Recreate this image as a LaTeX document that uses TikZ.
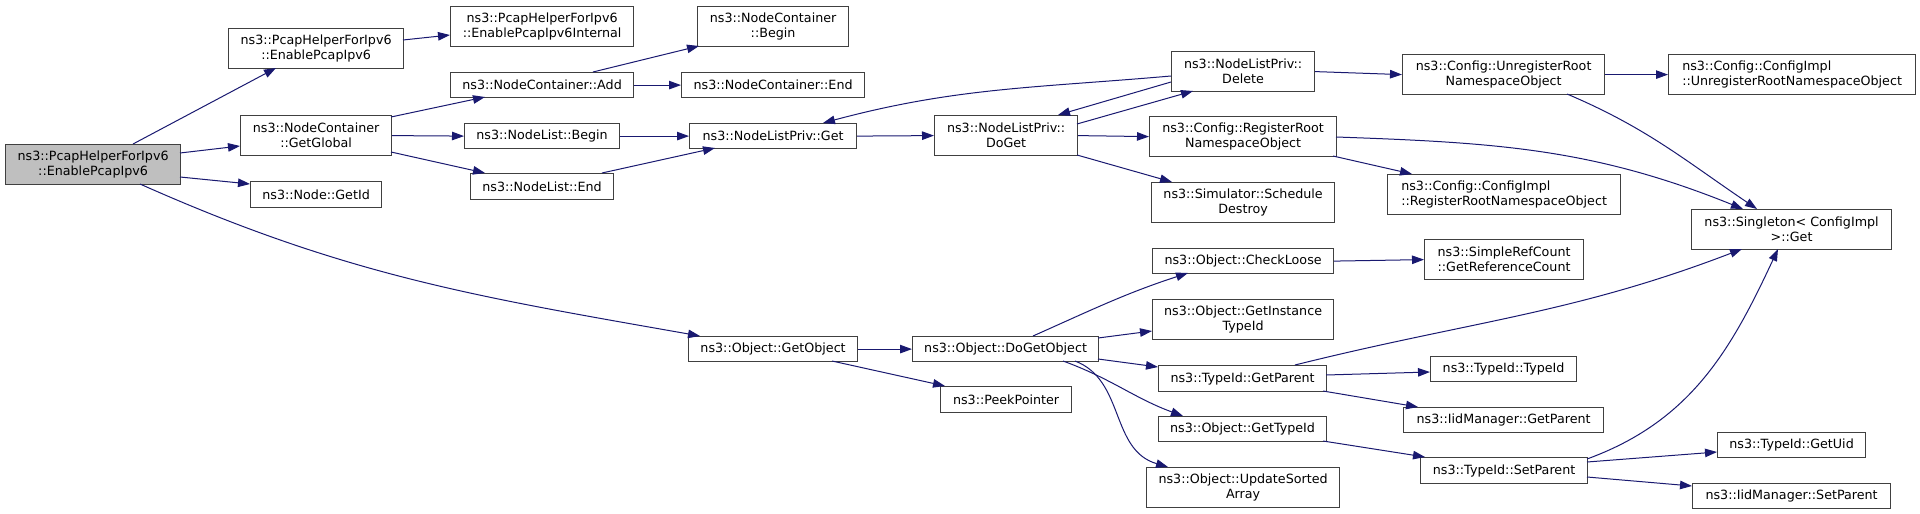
\documentclass[tikz,border=0pt]{standalone}
\usepackage{fontspec}
\setmainfont{DejaVu Sans}
\usetikzlibrary{arrows.meta}
\definecolor{edgecol}{HTML}{191970}
\definecolor{boxcol}{HTML}{404040}
\definecolor{rootfill}{HTML}{BFBFBF}
\begin{document}
\begin{tikzpicture}[x=1pt,y=1pt,
 box/.style={draw=boxcol, line width=1.2pt, anchor=north west, inner sep=0pt, align=center, fill=white,
   font=\fontsize{12.7}{14.7}\selectfont},
 edge/.style={draw=edgecol, line width=1pt, -{Triangle[length=12pt,width=8.5pt]}},
]
\useasboundingbox (0,0) rectangle (1920,-514);

% column 1
\node[box, fill=rootfill, minimum width=175pt, minimum height=40pt] (root) at (5,-144) {ns3::PcapHelperForIpv6\\::EnablePcapIpv6};
% column 2
\node[box, minimum width=175pt, minimum height=40pt] (eph) at (228,-28) {ns3::PcapHelperForIpv6\\::EnablePcapIpv6};
\node[box, minimum width=151pt, minimum height=40pt] (glob) at (240,-115) {ns3::NodeContainer\\::GetGlobal};
\node[box, minimum width=131pt, minimum height=26pt] (getid) at (250,-181) {ns3::Node::GetId};
% column 3
\node[box, minimum width=183pt, minimum height=40pt] (int) at (450,-6) {ns3::PcapHelperForIpv6\\::EnablePcapIpv6Internal};
\node[box, minimum width=183pt, minimum height=25pt] (add) at (450,-72) {ns3::NodeContainer::Add};
\node[box, minimum width=155pt, minimum height=25pt] (nlb) at (464,-123) {ns3::NodeList::Begin};
\node[box, minimum width=143pt, minimum height=26pt] (nle) at (470,-173) {ns3::NodeList::End};
% column 4
\node[box, minimum width=151pt, minimum height=40pt] (ncb) at (697,-6) {ns3::NodeContainer\\::Begin};
\node[box, minimum width=183pt, minimum height=25pt] (nce) at (681,-72) {ns3::NodeContainer::End};
\node[box, minimum width=167pt, minimum height=25pt] (get) at (689,-123) {ns3::NodeListPriv::Get};
\node[box, minimum width=169pt, minimum height=25pt] (getobj) at (688,-336) {ns3::Object::GetObject};
% column 5
\node[box, minimum width=143pt, minimum height=40pt] (doget) at (934,-115) {ns3::NodeListPriv::\\DoGet};
\node[box, minimum width=186pt, minimum height=25pt] (dogetobj) at (912,-336) {ns3::Object::DoGetObject};
\node[box, minimum width=131pt, minimum height=26pt] (peek) at (940,-386) {ns3::PeekPointer};
% column 6
\node[box, minimum width=143pt, minimum height=40pt] (del) at (1171,-51) {ns3::NodeListPriv::\\Delete};
\node[box, minimum width=187pt, minimum height=40pt] (reg) at (1149,-116) {ns3::Config::RegisterRoot\\NamespaceObject};
\node[box, minimum width=183pt, minimum height=40pt] (sched) at (1151,-182) {ns3::Simulator::Schedule\\Destroy};
\node[box, minimum width=181pt, minimum height=25pt] (check) at (1152,-248) {ns3::Object::CheckLoose};
\node[box, minimum width=181pt, minimum height=40pt] (inst) at (1152,-299) {ns3::Object::GetInstance\\TypeId};
\node[box, minimum width=168pt, minimum height=26pt] (tgp) at (1158,-365) {ns3::TypeId::GetParent};
\node[box, minimum width=168pt, minimum height=25pt] (gti) at (1158,-416) {ns3::Object::GetTypeId};
\node[box, minimum width=193pt, minimum height=40pt] (upd) at (1146,-467) {ns3::Object::UpdateSorted\\Array};
% column 7
\node[box, minimum width=202pt, minimum height=40pt] (unreg) at (1402,-54) {ns3::Config::UnregisterRoot\\NamespaceObject};
\node[box, align=left, minimum width=233pt, minimum height=40pt] (cir) at (1387,-174) {ns3::Config::ConfigImpl\\::RegisterRootNamespaceObject};
\node[box, minimum width=159pt, minimum height=40pt] (src) at (1424,-239) {ns3::SimpleRefCount\\::GetReferenceCount};
\node[box, minimum width=146pt, minimum height=25pt] (tti) at (1430,-356) {ns3::TypeId::TypeId};
\node[box, minimum width=200pt, minimum height=25pt] (igp) at (1403,-407) {ns3::IidManager::GetParent};
\node[box, minimum width=167pt, minimum height=26pt] (tsp) at (1420,-457) {ns3::TypeId::SetParent};
% column 8
\node[box, align=left, minimum width=247pt, minimum height=40pt] (ciu) at (1668,-54) {ns3::Config::ConfigImpl\\::UnregisterRootNamespaceObject};
\node[box, minimum width=200pt, minimum height=40pt] (single) at (1691,-209) {ns3::Singleton< ConfigImpl\\>::Get};
\node[box, minimum width=148pt, minimum height=25pt] (uid) at (1717,-432) {ns3::TypeId::GetUid};
\node[box, minimum width=198pt, minimum height=25pt] (isp) at (1692,-483) {ns3::IidManager::SetParent};

% edges
\draw[edge] ([shift={(128,0)}]root.north west) -- ([shift={(48,-40)}]eph.north west);
\draw[edge] ([shift={(175,-12)}]eph.north west) -- ([shift={(0,-29)}]int.north west);
\draw[edge] ([shift={(175,-9)}]root.north west) -- ([shift={(0,-31)}]glob.north west);
\draw[edge] ([shift={(175,-33)}]root.north west) -- ([shift={(0,-3)}]getid.north west);
\draw[edge] ([shift={(135,-40)}]root.north west) to[out=-24,in=170] ([shift={(12,0)}]getobj.north west);
\draw[edge] ([shift={(151,-2)}]glob.north west) -- ([shift={(35,-25)}]add.north west);
\draw[edge] (glob.east) -- (nlb.west);
\draw[edge] ([shift={(151,-37)}]glob.north west) -- ([shift={(15,0)}]nle.north west);
\draw[edge] ([shift={(143,0)}]add.north west) -- ([shift={(2,-40)}]ncb.north west);
\draw[edge] (add.east) -- (nce.west);
\draw[edge] (nlb.east) -- (get.west);
\draw[edge] ([shift={(132,0)}]nle.north west) -- ([shift={(26,-25)}]get.north west);
\draw[edge] (get.east) -- (doget.west);
\draw[edge] ([shift={(0,-25)}]del.north west) to[out=185,in=15] ([shift={(134,0)}]get.north west);
\draw[edge] ([shift={(143,-9)}]doget.north west) -- ([shift={(22,-40)}]del.north west);
\draw[edge] ([shift={(0,-31)}]del.north west) -- ([shift={(124,0)}]doget.north west);
\draw[edge] (doget.east) -- (reg.west);
\draw[edge] ([shift={(143,-40)}]doget.north west) -- ([shift={(21,0)}]sched.north west);
\draw[edge] (del.east) -- (unreg.west);
\draw[edge] (unreg.east) -- (ciu.west);
\draw[edge] ([shift={(165,-40)}]unreg.north west) to[out=-23,in=146] ([shift={(66,0)}]single.north west);
\draw[edge] ([shift={(187,-21)}]reg.north west) to[out=-2,in=158] ([shift={(52,0)}]single.north west);
\draw[edge] ([shift={(184,-40)}]reg.north west) -- ([shift={(25,0)}]cir.north west);
\draw[edge] (getobj.east) -- (dogetobj.west);
\draw[edge] ([shift={(144,-25)}]getobj.north west) -- ([shift={(5,0)}]peek.north west);
\draw[edge] ([shift={(121,0)}]dogetobj.north west) to[out=24,in=198] ([shift={(36,-25)}]check.north west);
\draw[edge] ([shift={(186,-2)}]dogetobj.north west) -- ([shift={(0,-32)}]inst.north west);
\draw[edge] ([shift={(186,-23)}]dogetobj.north west) -- ([shift={(0,-2)}]tgp.north west);
\draw[edge] ([shift={(151,-25)}]dogetobj.north west) to[out=-20,in=160] ([shift={(25,0)}]gti.north west);
\draw[edge] ([shift={(163,-25)}]dogetobj.north west) .. controls +(50,-19) and +(-58,17) .. ([shift={(22,0)}]upd.north west);
\draw[edge] (check.east) -- (src.west);
\draw[edge] ([shift={(137,0)}]tgp.north west) to[out=14,in=201] ([shift={(51,-40)}]single.north west);
\draw[edge] ([shift={(168,-10)}]tgp.north west) -- ([shift={(0,-16)}]tti.north west);
\draw[edge] ([shift={(165,-26)}]tgp.north west) -- ([shift={(15,0)}]igp.north west);
\draw[edge] ([shift={(165,-25)}]gti.north west) -- ([shift={(5,0)}]tsp.north west);
\draw[edge] ([shift={(167,-2)}]tsp.north west) to[out=20,in=245] ([shift={(87,-40)}]single.north west);
\draw[edge] ([shift={(167,-5)}]tsp.north west) -- ([shift={(0,-20)}]uid.north west);
\draw[edge] ([shift={(167,-20)}]tsp.north west) -- ([shift={(0,-3)}]isp.north west);
\end{tikzpicture}
\end{document}
